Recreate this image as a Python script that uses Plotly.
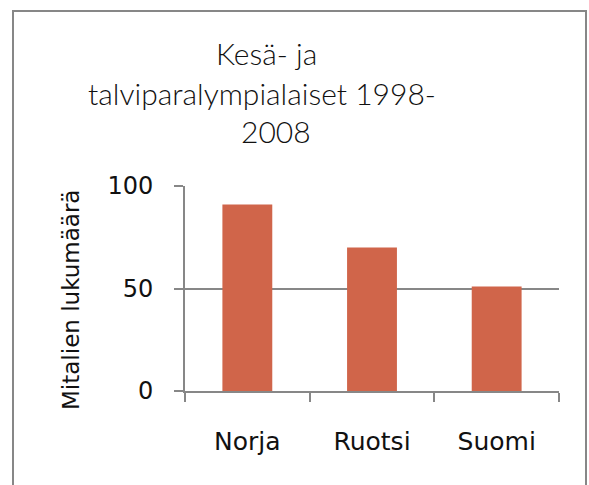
import plotly.graph_objects as go

categories = ["Norja", "Ruotsi", "Suomi"]
medals = [91, 70, 51]
y_ticks = [0, 50, 100]
title_lines = ["Kesä- ja", "talviparalympialaiset 1998-", "2008"]
y_title = "Mitalien lukumäärä"

W, H = 589, 485
L, R, T, B = 185, 30, 186, 94
pw, ph = W - L - R, H - T - B

def px_x(x):
    return (x - L) / pw

def px_y(y):
    return (H - B - y) / ph

grey = "#878787"
fig = go.Figure(go.Bar(x=categories, y=medals, marker=dict(color="#D0654A", line=dict(width=0))))

fig.update_layout(
    width=W, height=H,
    margin=dict(l=L, r=R, t=T, b=B),
    paper_bgcolor="white", plot_bgcolor="white",
    bargap=0.6,
    showlegend=False,
    font=dict(family="DejaVu Sans", color="#111111"),
)
title_centers = [52, 92, 130]
title_x = [266, 262, 276]
for line, yc, xc in zip(title_lines, title_centers, title_x):
    fig.add_annotation(text=line, xref="paper", yref="paper", x=px_x(xc), y=px_y(yc + 1),
                       xanchor="center", yanchor="middle", showarrow=False,
                       font=dict(family="Lato", size=30, color="#111111", weight=300))
fig.add_annotation(text=y_title, xref="paper", yref="paper", x=px_x(71), y=px_y(300),
                   xanchor="center", yanchor="middle", showarrow=False, textangle=-90,
                   font=dict(family="DejaVu Sans", size=23, color="#111111"))
fig.update_xaxes(
    type="category", tickson="boundaries", ticks="outside", ticklen=9, tickwidth=1.5,
    tickcolor=grey, showline=True, linecolor=grey, linewidth=2, showgrid=False,
    tickfont=dict(size=25, family="DejaVu Sans"), ticklabelstandoff=27,
)
fig.update_yaxes(
    range=[0, 100], tickvals=y_ticks, ticks="outside", ticklen=9, tickwidth=1.5, tickcolor=grey,
    showline=True, linecolor=grey, linewidth=2, showgrid=True, gridcolor=grey, gridwidth=1.5,
    zeroline=False, tickfont=dict(size=24, family="DejaVu Sans"), ticklabelstandoff=16,
)
fig.add_shape(type="rect", xref="paper", yref="paper",
              x0=px_x(13), x1=px_x(586), y0=px_y(520), y1=px_y(11),
              line=dict(color=grey, width=2), fillcolor="rgba(0,0,0,0)", layer="above")
fig.write_html("out.html", post_script="document.body.style.margin='0';",
               config={"displayModeBar": False})
